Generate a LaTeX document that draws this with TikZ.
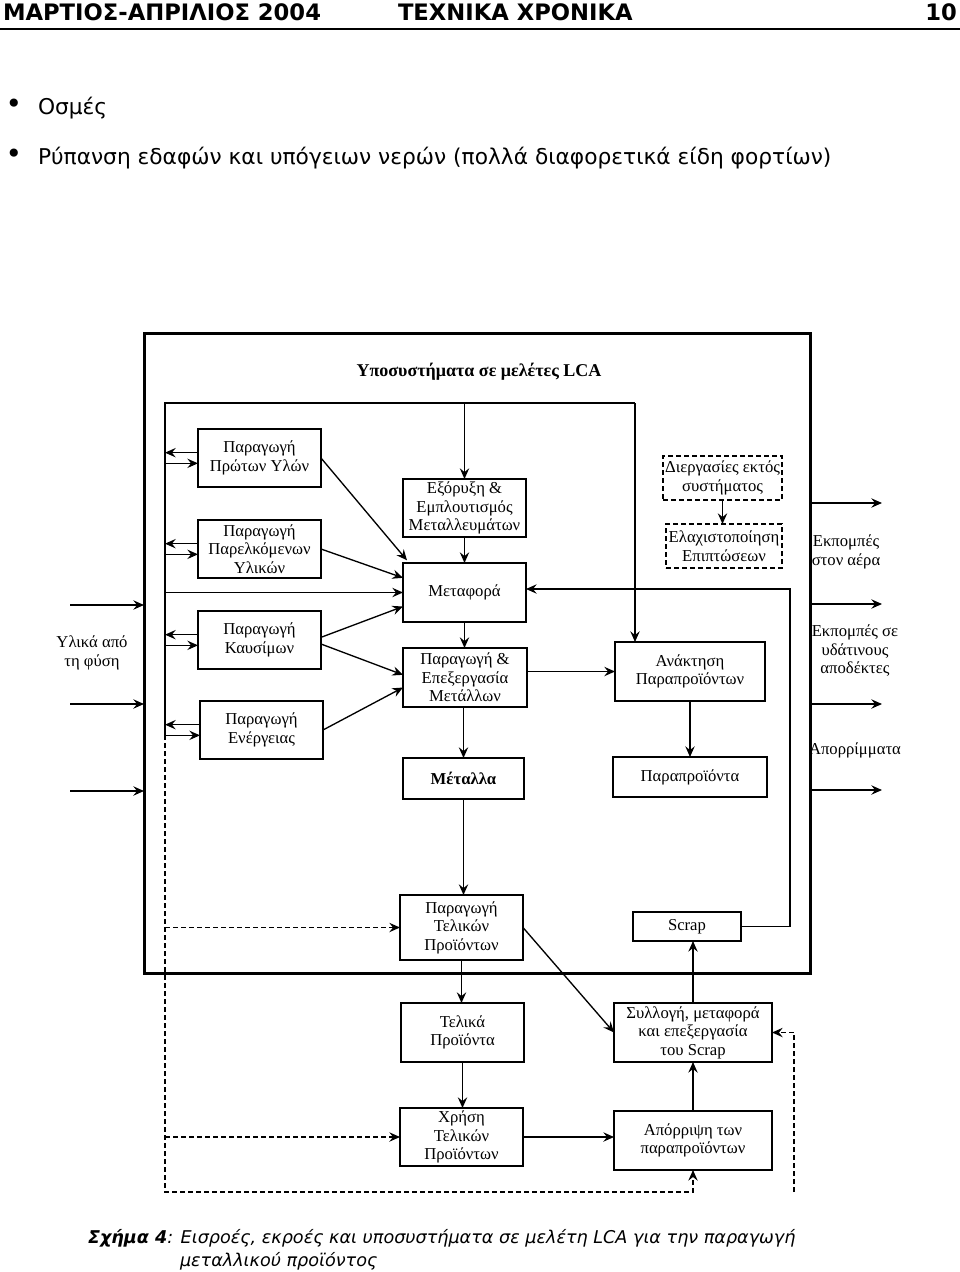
\documentclass[tikz,border=0pt]{standalone}
\usepackage{fontspec}
\setmainfont{Liberation Serif}
\newfontfamily\sansgr{DejaVu Sans}
\usetikzlibrary{arrows.meta,fit}
\newcommand\bx[7][]{\node[box,#1,minimum width={0.75*(#5-#3)},minimum height={0.75*(#6-#4)}] (#2) at ({(#3+#5)/2},{(#4+#6)/2}) {#7};}
\begin{document}
\begin{tikzpicture}[x=0.75pt,y=-0.75pt,
  every node/.style={inner sep=0pt, outer sep=0pt},
  box/.style={draw, line width=1pt, align=center, font=\fontsize{12.5}{13.9}\selectfont},
  dbox/.style={dash pattern=on 3.5pt off 2.5pt},
  ln/.style={line width=1pt},
  arr/.style={line width=1pt, -{Stealth[length=8pt,width=7pt,inset=2.8pt]}},
  darr/.style={arr, dash pattern=on 3.5pt off 2.5pt},
  lbl/.style={align=center, font=\fontsize{12.5}{13.9}\selectfont},
  hdr/.style={font=\sansgr\bfseries\fontsize{17}{19}\selectfont},
  bul/.style={font=\sansgr\fontsize{16.3}{19}\selectfont},
  capt/.style={font=\sansgr\itshape\fontsize{13.2}{16}\selectfont},
  ttl/.style={font=\bfseries\fontsize{13.5}{16}\selectfont},
]
\useasboundingbox (0,0) rectangle (960,1272);
\fill[white] (0,0) rectangle (960,1272);

% header
\node[hdr, anchor=base west] (hl) at (3,20) {ΜΑΡΤΙΟΣ-ΑΠΡΙΛΙΟΣ 2004};
\node[hdr, anchor=base west] (hc) at (398,20) {ΤΕΧΝΙΚΑ ΧΡΟΝΙΚΑ};
\node[hdr, anchor=base east] (hr) at (957,20) {10};
\draw[line width=1.5pt] (0,29) -- (960,29);

% bullets
\node[font=\sansgr\fontsize{21}{21}\selectfont] (b1dot) at (14,106) {•};
\node[bul, anchor=base west] (b1txt) at (38,114) {Οσμές};
\node[font=\sansgr\fontsize{21}{21}\selectfont] (b2dot) at (14,156) {•};
\node[bul, anchor=base west] (b2txt) at (38,164) {Ρύπανση εδαφών και υπόγειων νερών (πολλά διαφορετικά είδη φορτίων)};

% caption
\node[capt, anchor=base west] (cap1) at (88,1243) {{\bfseries Σχήμα 4}: Εισροές, εκροές και υποσυστήματα σε μελέτη LCA για την παραγωγή};
\node[capt, anchor=base west] (cap2) at (180,1266) {μεταλλικού προϊόντος};

% outer frame
\node[draw, line width=2.25pt, fit={(144,333) (810,973)}] (outer) {};
\node[ttl] (title) at (479,372) {Υποσυστήματα σε μελέτες LCA};

% boxes
\bx{p1}{198}{429}{321}{487}{Παραγωγή\\Πρώτων Υλών}
\bx{p2}{198}{520}{321}{578}{Παραγωγή\\Παρελκόμενων\\Υλικών}
\bx{p3}{198}{611}{321}{669}{Παραγωγή\\Καυσίμων}
\bx{p4}{200}{701}{323}{759}{Παραγωγή\\Ενέργειας}
\bx{m1}{403}{479}{526}{537}{Εξόρυξη \&\\Εμπλουτισμός\\Μεταλλευμάτων}
\bx{m2}{403}{563}{526}{622}{Μεταφορά}
\bx{m3}{403}{648}{527}{707}{Παραγωγή \&\\Επεξεργασία\\Μετάλλων}
\bx{m4}{403}{758}{524}{799}{\textbf{Μέταλλα}}
\bx{r1}{615}{642}{765}{701}{Ανάκτηση\\Παραπροϊόντων}
\bx{r2}{613}{757}{767}{797}{Παραπροϊόντα}
\bx[dbox]{d1}{663}{456}{782}{500}{Διεργασίες εκτός\\συστήματος}
\bx[dbox]{d2}{666}{524}{782}{568}{Ελαχιστοποίηση\\Επιπτώσεων}
\bx{f1}{400}{895}{523}{960}{Παραγωγή\\Τελικών\\Προϊόντων}
\bx{sc}{633}{912}{741}{941}{Scrap}
\bx{f2}{401}{1003}{524}{1062}{Τελικά\\Προϊόντα}
\bx{s2}{614}{1003}{772}{1062}{Συλλογή, μεταφορά\\και επεξεργασία\\του Scrap}
\bx{f3}{400}{1108}{523}{1166}{Χρήση\\Τελικών\\Προϊόντων}
\bx{s3}{614}{1111}{772}{1170}{Απόρριψη των\\παραπροϊόντων}

% side labels
\node[lbl] (lin) at (92,653) {Υλικά από\\τη φύση};
\node[lbl] (lair) at (846,552) {Εκπομπές\\στον αέρα};
\node[lbl] (lwat) at (855,651) {Εκπομπές σε\\υδάτινους\\αποδέκτες};
\node[lbl] (lwas) at (855,750) {Απορρίμματα};

% inputs / outputs
\coordinate (in1) at (70,605);
\coordinate (in2) at (70,704);
\coordinate (in3) at (70,791);
\coordinate (o1) at (882,503);
\coordinate (o2) at (882,604);
\coordinate (o3) at (882,704);
\coordinate (o4) at (882,790);
\foreach \c in {in1,in2,in3} \draw[arr] (\c) -- (\c -| outer.west);
\foreach \c in {o1,o2,o3,o4} \draw[arr] (\c -| outer.east) -- (\c);

% inner frame
\coordinate (fTL) at (165,403);
\coordinate (fTR) at (635,403);
\coordinate (fSolidEnd) at ([yshift=-4pt]p4.west -| fTL);
\coordinate (fBL) at (165,1192);
\coordinate (loopTop) at (790,589);
\coordinate (rdBot) at (794,1192);
\draw[ln] (fSolidEnd) -- (fTL) -- (fTR);
\draw[arr] (fTR) -- (fTR |- r1.north);
\draw[arr] (m1.north |- fTL) -- (m1.north);

% pairs of arrows to the left line
\foreach \b in {p1,p2,p3,p4} {
  \draw[arr] ([yshift=4pt]\b.west) -- ([yshift=4pt]\b.west -| fTL);
  \draw[arr] ([yshift=-4pt]\b.west -| fTL) -- ([yshift=-4pt]\b.west);
}

% into Metafora and Paragogi-Epexergasia
\draw[arr] (p1.east) -- ([xshift=3pt,yshift=2pt]m2.north west);
\draw[arr] (p2.east) -- ([yshift=11pt]m2.west);
\draw[arr] (m2.west -| fTL) -- (m2.west);
\draw[arr] ([yshift=2pt]p3.east) -- ([yshift=-10.5pt]m2.west);
\draw[arr] ([yshift=-3pt]p3.east) -- ([yshift=2pt]m3.west);
\draw[arr] (p4.east) -- ([yshift=-7.5pt]m3.west);

% vertical chains
\draw[arr] (m1.south) -- (m1.south |- m2.north);
\draw[arr] (m2.south) -- (m2.south |- m3.north);
\draw[arr] (m4.north |- m3.south) -- (m4.north);
\draw[arr] (m3.east |- r1.west) -- (r1.west);
\draw[arr] (r1.south) -- (r1.south |- r2.north);
\draw[arr] (d1.south) -- (d1.south |- d2.north);
\draw[arr] (m4.south) -- (m4.south |- f1.north);
\draw[arr] (f1.south) -- (f1.south |- f2.north);
\draw[arr] (f2.south) -- (f2.south |- f3.north);
\draw[arr] (f3.east) -- (f3.east -| s3.west);
\draw[arr] (s3.north) -- (s3.north |- s2.south);
\draw[arr] (s2.north) -- (s2.north |- sc.south);
\draw[arr] (f1.east) -- (s2.west);

% scrap loop back to Metafora
\draw[arr] (sc.east) -| (loopTop) -- (loopTop -| m2.east);

% dashed connections
\draw[darr] (fSolidEnd) -- (fBL) -- (fBL -| s3.south) -- (s3.south);
\draw[darr] (f1.west -| fTL) -- (f1.west);
\draw[darr] (f3.west -| fTL) -- (f3.west);
\draw[darr] (rdBot) -- (rdBot |- s2.east) -- (s2.east);
\end{tikzpicture}
\end{document}
